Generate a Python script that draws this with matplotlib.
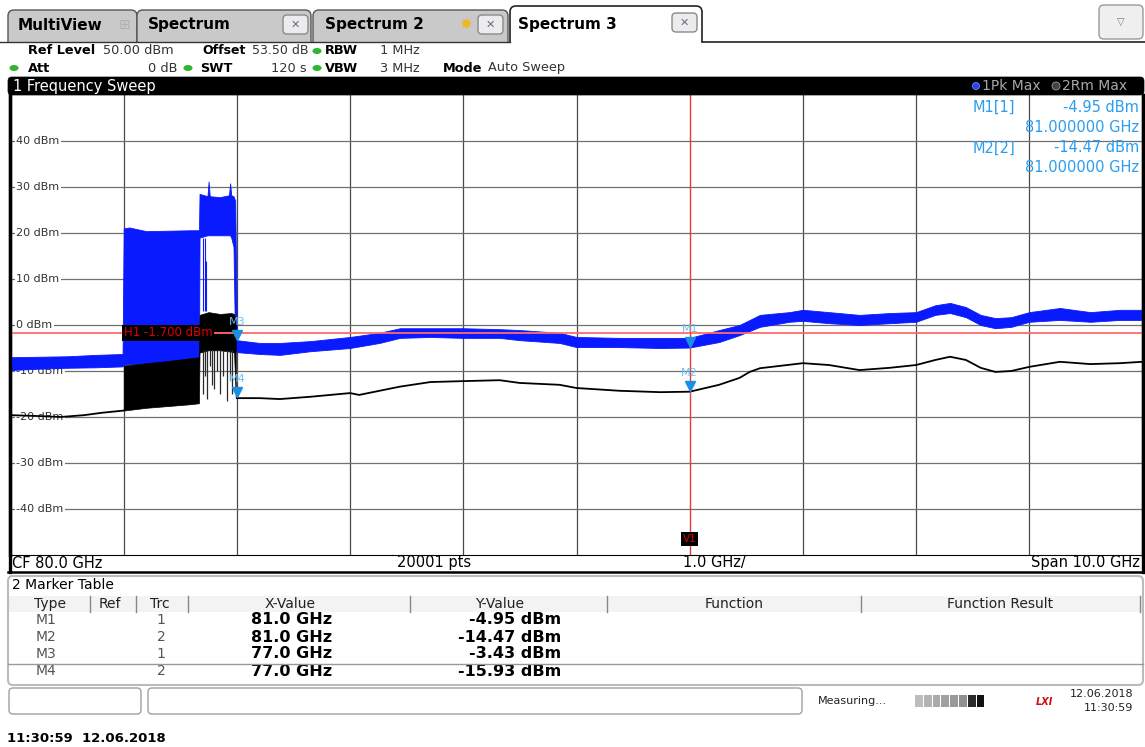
import numpy as np
import matplotlib
matplotlib.use('Agg')
import matplotlib.pyplot as plt
from matplotlib.patches import Rectangle, FancyBboxPatch, Ellipse
from matplotlib.transforms import blended_transform_factory, offset_copy

W, H = 1145, 747

# analyser settings
cf = 80.0      # GHz
span = 10.0    # GHz
ref_level = 50
ytick_vals = [40, 30, 20, 10, 0, -10, -20, -30, -40]
h1 = -1.7
v1 = 81.0

# trace 1 (1Pk Max, blue) drawn as lower / upper envelope, GHz vs dBm
blue_f = [75.0, 75.25, 75.5, 75.75, 75.99, 76.0, 76.05, 76.2, 76.4, 76.6, 76.665,
          76.67, 76.74, 76.75, 76.76, 76.85, 76.93, 76.94, 76.95, 76.97, 76.985,
          77.0, 77.2, 77.38, 77.65, 78.0, 78.26, 78.44, 78.71, 79.0, 79.32, 79.5,
          79.85, 80.0, 80.38, 80.74, 81.0, 81.26, 81.44, 81.62, 81.88, 82.0, 82.23,
          82.5, 82.77, 83.0, 83.17, 83.3, 83.44, 83.57, 83.7, 83.84, 84.0, 84.27,
          84.54, 84.8, 85.0]
blue_lo = [-9.8, -9.5, -9.3, -9.2, -9.0, -8.6, -8.5, -8.3, -8.0, -7.6, -7.5,
           19.0, 19.5, 19.5, 19.5, 19.5, 19.5, 19.5, 19.0, 17.0, -5.5,
           -5.9, -6.3, -6.5, -5.7, -5.0, -3.9, -2.8, -2.6, -2.8, -2.8, -3.3,
           -3.9, -4.8, -4.8, -5.0, -4.9, -3.7, -2.2, -0.4, 0.7, 0.9, 0.4,
           0.0, 0.4, 0.7, 2.2, 2.6, 1.7, 0.0, -0.7, -0.4, 0.7, 1.1,
           0.7, 1.1, 1.1]
blue_hi = [-7.0, -6.9, -6.8, -6.5, -6.3, 21.0, 21.2, 20.4, 20.5, 20.6, 20.6,
           28.5, 28.0, 31.2, 28.0, 27.8, 28.2, 30.8, 28.2, 28.0, 27.0,
           -3.3, -3.9, -3.9, -3.5, -2.6, -1.7, -0.7, -0.7, -0.7, -0.9, -1.1,
           -1.7, -2.6, -2.8, -2.8, -2.8, -1.1, 0.0, 2.2, 2.8, 3.3, 2.8,
           2.2, 2.6, 2.8, 4.3, 4.8, 3.9, 2.2, 1.5, 1.7, 2.8, 3.7,
           2.8, 3.3, 3.3]
blue_spike_f = [76.70, 76.715, 76.725]
blue_spike_top = [19.0, 19.0, 14.0]

# trace 2 (2Rm Max, black)
black_pre_f = [75.0, 75.25, 75.44, 75.65, 75.8, 76.0]
black_pre_y = [-19.6, -19.8, -20.0, -19.6, -19.1, -18.6]
black_burst_f = [76.0, 76.2, 76.4, 76.6, 76.665, 76.67, 76.75, 76.85, 76.95, 76.975, 76.99]
black_burst_lo = [-18.6, -18.0, -17.6, -17.2, -17.0, -6.0, -5.5, -5.5, -5.8, -6.0, -15.9]
black_burst_hi = [-8.8, -8.3, -7.8, -7.2, -7.0, 2.2, 2.8, 2.4, 2.6, 2.4, 1.0]
black_spike_f = [76.70, 76.72, 76.74, 76.76, 76.78, 76.80, 76.82, 76.85, 76.88, 76.91, 76.94, 76.96]
black_spike_lo = [-15.0, -11.0, -16.0, -9.0, -13.0, -14.0, -10.0, -15.0, -11.0, -16.5, -12.0, -15.0]
black_post_f = [77.0, 77.2, 77.38, 77.65, 78.0, 78.08, 78.44, 78.71, 79.0, 79.32, 79.5,
                79.85, 80.0, 80.38, 80.74, 81.0, 81.26, 81.44, 81.53, 81.62, 82.0,
                82.23, 82.5, 82.77, 83.0, 83.17, 83.3, 83.44, 83.57, 83.7, 83.84,
                84.0, 84.27, 84.54, 84.8, 85.0]
black_post_y = [-15.9, -15.9, -16.1, -15.6, -14.8, -15.2, -13.4, -12.4, -12.2, -12.0, -12.6,
                -13.0, -13.7, -14.3, -14.6, -14.5, -13.0, -11.5, -10.2, -9.4, -8.3,
                -8.7, -9.8, -9.3, -8.7, -7.6, -6.9, -7.6, -9.3, -10.2, -10.0,
                -9.1, -8.0, -8.5, -8.3, -8.0]

# markers
mk_names = ['M1', 'M2', 'M3', 'M4']
mk_trc = [1, 2, 1, 2]
mk_x = [81.0, 81.0, 77.0, 77.0]
mk_y = [-4.95, -14.47, -3.43, -15.93]

BLUE = '#0a1aff'
MKC = '#1a8fe3'
INFO = '#2a9df0'

fig = plt.figure(figsize=(W / 100, H / 100), dpi=100)
fig.patch.set_facecolor('white')


def px_box(l, t, r, b):
    return [l / W, 1 - b / H, (r - l) / W, (b - t) / H]


# ---------------- spectrum plot ----------------
ax = fig.add_axes(px_box(10.5, 95, 1142.5, 555))
ax.set_xlim(cf - span / 2, cf + span / 2)
ax.set_ylim(ref_level - 100, ref_level)
ax.set_xticks([])
ax.set_yticks([])
for s in ['left', 'right']:
    ax.spines[s].set_linewidth(2.4)
ax.spines['top'].set_visible(False)
ax.spines['bottom'].set_linewidth(0.8)

for f in np.arange(cf - span / 2 + 1, cf + span / 2, 1.0):
    ax.axvline(f, color='#4a4a4a', lw=0.9, zorder=1)
yt = blended_transform_factory(ax.transAxes, ax.transData)
for v in ytick_vals:
    ax.axhline(v, color='#707070', lw=0.9, zorder=1)
    ax.text(0.005, v, f'{v} dBm', transform=yt, ha='left', va='center', fontsize=8,
            color='#333333', zorder=2,
            bbox=dict(fc='white', ec='none', pad=1.0))

ax.fill_between(blue_f, blue_lo, blue_hi, color=BLUE, lw=0.6, zorder=3)
ax.vlines(blue_spike_f, 3.0, blue_spike_top, color=BLUE, lw=0.8, zorder=3)
ax.plot(black_pre_f, black_pre_y, color='black', lw=1.3, zorder=4)
ax.fill_between(black_burst_f, black_burst_lo, black_burst_hi, color='black', lw=0.5, zorder=4)
ax.vlines(black_spike_f, black_spike_lo, -5.5, color='#2a2a2a', lw=0.9, zorder=4)
ax.plot(black_post_f, black_post_y, color='black', lw=1.3, zorder=4)

ax.axhline(h1, color='#ff6b6b', lw=1.3, zorder=5)
ax.text(cf - span / 2 + 1.0, h1, f'H1 {h1:.3f} dBm', ha='left', va='center', fontsize=8.5,
        color='#e00000', zorder=6, bbox=dict(fc='black', ec='none', pad=1.2))
ax.axvline(v1, color='#ff3030', lw=0.8, zorder=5)
ax.text(v1, -46.5, 'V1', ha='center', va='center', fontsize=7.5, color='#e00000', zorder=6,
        bbox=dict(fc='black', ec='none', pad=1.2))

tri = offset_copy(ax.transData, fig=fig, x=0, y=6, units='dots')
lab = offset_copy(ax.transData, fig=fig, x=0, y=19, units='dots')
for n, x, y in zip(mk_names, mk_x, mk_y):
    ax.plot([x], [y], marker='v', ms=7.5, color=MKC, transform=tri, zorder=7)
    ax.text(x, y, n, transform=lab, ha='center', va='center', fontsize=8, color='#6cc0f0', zorder=7)

# ---------------- instrument chrome (pixel coordinates) ----------------
ui = fig.add_axes([0, 0, 1, 1], zorder=5)
ui.set_xlim(0, W)
ui.set_ylim(H, 0)
ui.axis('off')
ui.patch.set_visible(False)


def txt(x, y, s, **kw):
    kw.setdefault('va', 'center')
    kw.setdefault('fontsize', 9.3)
    ui.text(x, y, s, **kw)


def rbox(l, t, r, b, fc, ec, lw=1.0, rs=6, z=1):
    ui.add_patch(FancyBboxPatch((l, t), r - l, b - t, boxstyle=f'round,pad=0,rounding_size={rs}',
                                fc=fc, ec=ec, lw=lw, zorder=z))


def close_btn(l, t):
    rbox(l, t, l + 25, t + 19, '#ececec', '#8a8a8a', lw=1, rs=4, z=3)
    txt(l + 12.5, t + 9.5, '\u2715', ha='center', fontsize=8, color='#6a6a86', zorder=4)


# tabs
rbox(8, 10, 137, 55, '#c9c9c9', '#555555', lw=1)
rbox(137, 10, 311, 55, '#c9c9c9', '#555555', lw=1)
rbox(313, 10, 508, 55, '#c9c9c9', '#555555', lw=1)
rbox(510, 6, 702, 55, 'white', '#222222', lw=1.2)
ui.add_patch(Rectangle((0, 42), W, 35, fc='white', ec='none', zorder=2))
ui.plot([0, 510], [41.5, 41.5], color='#333333', lw=1, zorder=3)
ui.plot([702, W], [41.5, 41.5], color='#222222', lw=1.2, zorder=3)
txt(18, 25, 'MultiView', fontweight='bold', fontsize=11, zorder=4)
txt(125, 25, '\u229e', ha='center', fontsize=10, color='#b0b0b0', zorder=4)
txt(148, 25, 'Spectrum', fontweight='bold', fontsize=11, zorder=4)
close_btn(283, 15)
txt(325, 25, 'Spectrum 2', fontweight='bold', fontsize=11, zorder=4)
txt(466, 24, '\u2738', ha='center', fontsize=11, color='#f0b820', zorder=4)
close_btn(478, 15)
txt(518, 24, 'Spectrum 3', fontweight='bold', fontsize=11, zorder=4)
close_btn(672, 13)
rbox(1099, 5, 1143, 39, '#efefef', '#9a9a9a', lw=1, rs=5, z=3)
txt(1121, 22, '\u25bd', ha='center', fontsize=7, color='#777777', zorder=4)

# settings header
GREEN = '#2fb52f'
for gx, gy in [(317, 51), (14, 68), (188, 68), (317, 68)]:
    ui.add_patch(Ellipse((gx, gy), 9, 6, fc=GREEN, ec='none', zorder=4))
txt(28, 51, 'Ref Level', fontweight='bold', zorder=4)
txt(103, 51, '50.00 dBm', color='#333333', zorder=4)
txt(202, 51, 'Offset', fontweight='bold', fontsize=9, zorder=4)
txt(309, 51, '53.50 dB', ha='right', color='#333333', fontsize=9, zorder=4)
txt(325, 51, 'RBW', fontweight='bold', zorder=4)
txt(380, 51, '1 MHz', color='#333333', zorder=4)
txt(28, 68, 'Att', fontweight='bold', zorder=4)
txt(177, 68, '0 dB', ha='right', color='#333333', zorder=4)
txt(200, 68, 'SWT', fontweight='bold', zorder=4)
txt(307, 68, '120 s', ha='right', color='#333333', zorder=4)
txt(325, 68, 'VBW', fontweight='bold', zorder=4)
txt(380, 68, '3 MHz', color='#333333', zorder=4)
txt(443, 68, 'Mode', fontweight='bold', zorder=4)
txt(488, 68, 'Auto Sweep', color='#333333', zorder=4)

# window title bar
rbox(8, 77, 1144, 95, 'black', 'black', lw=0.5, rs=4, z=3)
txt(13, 86, '1 Frequency Sweep', color='white', fontsize=10.5, zorder=4)
ui.add_patch(Ellipse((976, 86), 7, 7, fc='#2244ff', ec='#8899ff', lw=0.5, zorder=4))
txt(982, 86, '1Pk Max', color='#a8a8a8', fontsize=10, zorder=4)
ui.add_patch(Ellipse((1056, 86), 8, 8, fc='#444444', ec='#999999', lw=0.6, zorder=4))
txt(1062, 86, '2Rm Max', color='#a8a8a8', fontsize=10, zorder=4)

# marker readout in the diagram
txt(973, 107, f'{mk_names[0]}[{mk_trc[0]}]', color=INFO, fontsize=10.5, zorder=4)
txt(1139, 107, f'{mk_y[0]:.2f} dBm', ha='right', color=INFO, fontsize=10.5, zorder=4)
txt(1139, 127, f'{mk_x[0]:.6f} GHz', ha='right', color=INFO, fontsize=10.5, zorder=4)
txt(973, 148, f'{mk_names[1]}[{mk_trc[1]}]', color=INFO, fontsize=10.5, zorder=4)
txt(1139, 148, f'{mk_y[1]:.2f} dBm', ha='right', color=INFO, fontsize=10.5, zorder=4)
txt(1139, 168, f'{mk_x[1]:.6f} GHz', ha='right', color=INFO, fontsize=10.5, zorder=4)

# diagram footer
ui.plot([9.5, 9.5], [95, 572], color='black', lw=2.4, zorder=4)
ui.plot([1142.5, 1142.5], [95, 572], color='black', lw=2.4, zorder=4)
ui.plot([8, 1144], [572, 572], color='black', lw=1.8, zorder=4)
txt(12, 563, f'CF {cf:.1f} GHz', fontsize=10.5, zorder=4)
txt(434, 563, '20001 pts', ha='center', fontsize=10.5, zorder=4)
txt(683, 563, f'{span / 10:.1f} GHz/', fontsize=10.5, zorder=4)
txt(1140, 563, f'Span {span:.1f} GHz', ha='right', fontsize=10.5, zorder=4)

# marker table
rbox(8, 576, 1143, 685, 'none', '#bbbbbb', lw=1.5, rs=5, z=3)
txt(12, 585, '2 Marker Table', fontsize=10, zorder=4)
ui.add_patch(Rectangle((9, 596), 1133, 16, fc='#f3f3f3', ec='none', zorder=2))
for sx in [90, 136, 188, 410, 607, 861, 1140]:
    ui.plot([sx, sx], [596, 612], color='#888888', lw=1, zorder=4)
heads = ['Type', 'Ref', 'Trc', 'X-Value', 'Y-Value', 'Function', 'Function Result']
head_x = [50, 110, 160, 290, 500, 734, 1000]
for hx, hs in zip(head_x, heads):
    txt(hx, 604, hs, ha='center', fontsize=10, color='#222222', zorder=4)
row_y = [620, 637, 654, 671]
for ry, n, tr, x, y in zip(row_y, mk_names, mk_trc, mk_x, mk_y):
    txt(46, ry, n, ha='center', fontsize=10, color='#555555', zorder=4)
    txt(161, ry, str(tr), ha='center', fontsize=10, color='#555555', zorder=4)
    txt(292, ry, f'{x:.1f} GHz', ha='center', fontsize=11.5, fontweight='bold', zorder=4)
    txt(561, ry, f'{y:.2f} dBm', ha='right', fontsize=11.5, fontweight='bold', zorder=4)
ui.plot([8, 1143], [663.5, 663.5], color='#999999', lw=1, zorder=4)

# status bar
rbox(9, 688, 141, 714, 'white', '#a0a0a0', lw=1, rs=4, z=3)
rbox(148, 688, 802, 714, 'white', '#a0a0a0', lw=1, rs=4, z=3)
txt(818, 701, 'Measuring...', fontsize=8, color='#222222', zorder=4)
seg_c = ['#bdbdbd', '#b3b3b3', '#aaaaaa', '#a0a0a0', '#999999', '#909090', '#2a2a2a', '#111111']
for i, c in enumerate(seg_c):
    ui.add_patch(Rectangle((915 + i * 8.8, 695), 7.8, 12, fc=c, ec='none', zorder=4))
txt(1044, 702, 'LXI', fontsize=7, fontweight='bold', fontstyle='italic', color='#d01010',
    ha='center', zorder=4)
txt(1133, 694, '12.06.2018', ha='right', fontsize=8, color='#222222', zorder=4)
txt(1133, 708, '11:30:59', ha='right', fontsize=8, color='#222222', zorder=4)

txt(7, 738, '11:30:59  12.06.2018', fontsize=9.5, fontweight='bold', zorder=4)

fig.savefig('out.png', dpi=100)
